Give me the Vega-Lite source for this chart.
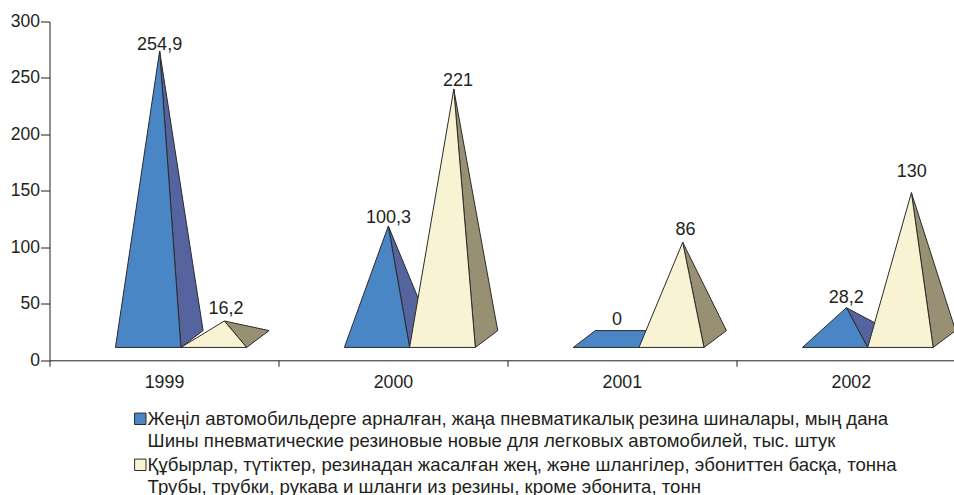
{"$schema":"https://vega.github.io/schema/vega-lite/v6.json","width":904.5,"height":338.8,"autosize":{"type":"none"},"padding":{"left":49.5,"top":21.5,"right":0,"bottom":134.7},"background":"white","config":{"view":{"stroke":null},"font":"Liberation Sans","style":{"guide-label":{"lineHeight":22}}},
"datasets":{"faces":[
{"p":"a1","o":0,"x":0.671,"y":26.3,"f":"sideA"},{"p":"a1","o":1,"x":0.481,"y":273.9,"f":"sideA"},{"p":"a1","o":2,"x":0.574,"y":11.4,"f":"sideA"},{"p":"a1","o":3,"x":0.671,"y":26.3,"f":"sideA"},
{"p":"a2","o":0,"x":0.288,"y":11.4,"f":"A"},{"p":"a2","o":1,"x":0.481,"y":273.9,"f":"A"},{"p":"a2","o":2,"x":0.574,"y":11.4,"f":"A"},{"p":"a2","o":3,"x":0.288,"y":11.4,"f":"A"},
{"p":"b1","o":0,"x":0.959,"y":26.3,"f":"sideB"},{"p":"b1","o":1,"x":0.764,"y":34.8,"f":"sideB"},{"p":"b1","o":2,"x":0.861,"y":11.4,"f":"sideB"},{"p":"b1","o":3,"x":0.959,"y":26.3,"f":"sideB"},
{"p":"b2","o":0,"x":0.574,"y":11.4,"f":"B"},{"p":"b2","o":1,"x":0.764,"y":34.8,"f":"B"},{"p":"b2","o":2,"x":0.861,"y":11.4,"f":"B"},{"p":"b2","o":3,"x":0.574,"y":11.4,"f":"B"},
{"p":"c1","o":0,"x":1.669,"y":26.3,"f":"sideA"},{"p":"c1","o":1,"x":1.48,"y":118.9,"f":"sideA"},{"p":"c1","o":2,"x":1.573,"y":11.4,"f":"sideA"},{"p":"c1","o":3,"x":1.669,"y":26.3,"f":"sideA"},
{"p":"c2","o":0,"x":1.288,"y":11.4,"f":"A"},{"p":"c2","o":1,"x":1.48,"y":118.9,"f":"A"},{"p":"c2","o":2,"x":1.573,"y":11.4,"f":"A"},{"p":"c2","o":3,"x":1.288,"y":11.4,"f":"A"},
{"p":"d1","o":0,"x":1.958,"y":26.3,"f":"sideB"},{"p":"d1","o":1,"x":1.766,"y":240,"f":"sideB"},{"p":"d1","o":2,"x":1.86,"y":11.4,"f":"sideB"},{"p":"d1","o":3,"x":1.958,"y":26.3,"f":"sideB"},
{"p":"d2","o":0,"x":1.573,"y":11.4,"f":"B"},{"p":"d2","o":1,"x":1.766,"y":240,"f":"B"},{"p":"d2","o":2,"x":1.86,"y":11.4,"f":"B"},{"p":"d2","o":3,"x":1.573,"y":11.4,"f":"B"},
{"p":"e2","o":0,"x":2.288,"y":11.4,"f":"A"},{"p":"e2","o":1,"x":2.384,"y":26.3,"f":"A"},{"p":"e2","o":2,"x":2.672,"y":26.3,"f":"A"},{"p":"e2","o":3,"x":2.575,"y":11.4,"f":"A"},{"p":"e2","o":4,"x":2.288,"y":11.4,"f":"A"},
{"p":"f1","o":0,"x":2.957,"y":26.3,"f":"sideB"},{"p":"f1","o":1,"x":2.766,"y":104.5,"f":"sideB"},{"p":"f1","o":2,"x":2.859,"y":11.4,"f":"sideB"},{"p":"f1","o":3,"x":2.957,"y":26.3,"f":"sideB"},
{"p":"f2","o":0,"x":2.575,"y":11.4,"f":"B"},{"p":"f2","o":1,"x":2.766,"y":104.5,"f":"B"},{"p":"f2","o":2,"x":2.859,"y":11.4,"f":"B"},{"p":"f2","o":3,"x":2.575,"y":11.4,"f":"B"},
{"p":"g1","o":0,"x":3.669,"y":26.3,"f":"sideA"},{"p":"g1","o":1,"x":3.481,"y":46.6,"f":"sideA"},{"p":"g1","o":2,"x":3.574,"y":11.4,"f":"sideA"},{"p":"g1","o":3,"x":3.669,"y":26.3,"f":"sideA"},
{"p":"g2","o":0,"x":3.289,"y":11.4,"f":"A"},{"p":"g2","o":1,"x":3.481,"y":46.6,"f":"A"},{"p":"g2","o":2,"x":3.574,"y":11.4,"f":"A"},{"p":"g2","o":3,"x":3.289,"y":11.4,"f":"A"},
{"p":"h1","o":0,"x":3.958,"y":26.3,"f":"sideB"},{"p":"h1","o":1,"x":3.765,"y":148.4,"f":"sideB"},{"p":"h1","o":2,"x":3.86,"y":11.4,"f":"sideB"},{"p":"h1","o":3,"x":3.958,"y":26.3,"f":"sideB"},
{"p":"h2","o":0,"x":3.574,"y":11.4,"f":"B"},{"p":"h2","o":1,"x":3.765,"y":148.4,"f":"B"},{"p":"h2","o":2,"x":3.86,"y":11.4,"f":"B"},{"p":"h2","o":3,"x":3.574,"y":11.4,"f":"B"}
],
"labels":[{"x":0.481,"y":279.2,"t":"254,9"},{"x":0.771,"y":45.4,"t":"16,2"},{"x":1.481,"y":126.4,"t":"100,3"},{"x":1.784,"y":247.3,"t":"221"},{"x":2.479,"y":35.7,"t":"0"},{"x":2.778,"y":115.8,"t":"86"},{"x":3.48,"y":55.2,"t":"28,2"},{"x":3.766,"y":166.7,"t":"130"}]},
"layer":[
{"data":{"name":"faces"},"mark":{"type":"line","stroke":"#2b2b2b","strokeWidth":1,"strokeJoin":"miter","interpolate":"linear","clip":false},
"encoding":{
"x":{"field":"x","type":"quantitative","scale":{"domain":[0,3.951],"nice":false,"zero":false},"axis":{"title":null,"values":[0,1,2,3],"grid":false,"tickSize":6,"tickColor":"#231f20","domainColor":"#231f20","labelColor":"#231f20","labelFontSize":17.8,"labelFont":"Liberation Sans","labelOffset":114.5,"labelPadding":7,"labelFlush":false,"labelOverlap":false,"labelExpr":"datum.value==0?'1999':datum.value==1?'2000':datum.value==2?'2001':'2002'"}},
"y":{"field":"y","type":"quantitative","scale":{"domain":[0,300],"nice":false},"axis":{"title":null,"values":[0,50,100,150,200,250,300],"grid":false,"tickSize":9,"tickColor":"#231f20","domainColor":"#231f20","labelColor":"#231f20","labelFontSize":17.5,"labelFont":"Liberation Sans","labelPadding":1}},
"order":{"field":"o","type":"quantitative"},
"detail":{"field":"p"},
"fill":{"field":"f","type":"nominal","scale":{"domain":["A","B","sideA","sideB"],"range":["#4a86c5","#f8f3d2","#55649f","#979072"]},
"legend":{"values":["A","B"],"orient":"none","legendX":81.5,"legendY":388,"title":null,"symbolType":"square","symbolSize":130,"symbolStrokeWidth":1,"symbolStrokeColor":"#2b2b2b","labelFontSize":18.6,"labelFont":"Liberation Sans","labelColor":"#231f20","labelLimit":900,"rowPadding":5,"labelOffset":-2,"labelExpr":"datum.value=='A'?['Жеңіл автомобильдерге арналған, жаңа пневматикалық резина шиналары, мың дана','Шины пневматические резиновые новые для легковых автомобилей, тыс. штук']:['Құбырлар, түтіктер, резинадан жасалған жең, және шлангілер, эбониттен басқа, тонна','Трубы, трубки, рукава и шланги из резины, кроме эбонита, тонн']"}}
}},
{"data":{"name":"labels"},"mark":{"type":"text","fontSize":18,"font":"Liberation Sans","color":"#231f20","align":"center","baseline":"middle"},
"encoding":{"x":{"field":"x","type":"quantitative"},"y":{"field":"y","type":"quantitative"},"text":{"field":"t"}}}
]}
